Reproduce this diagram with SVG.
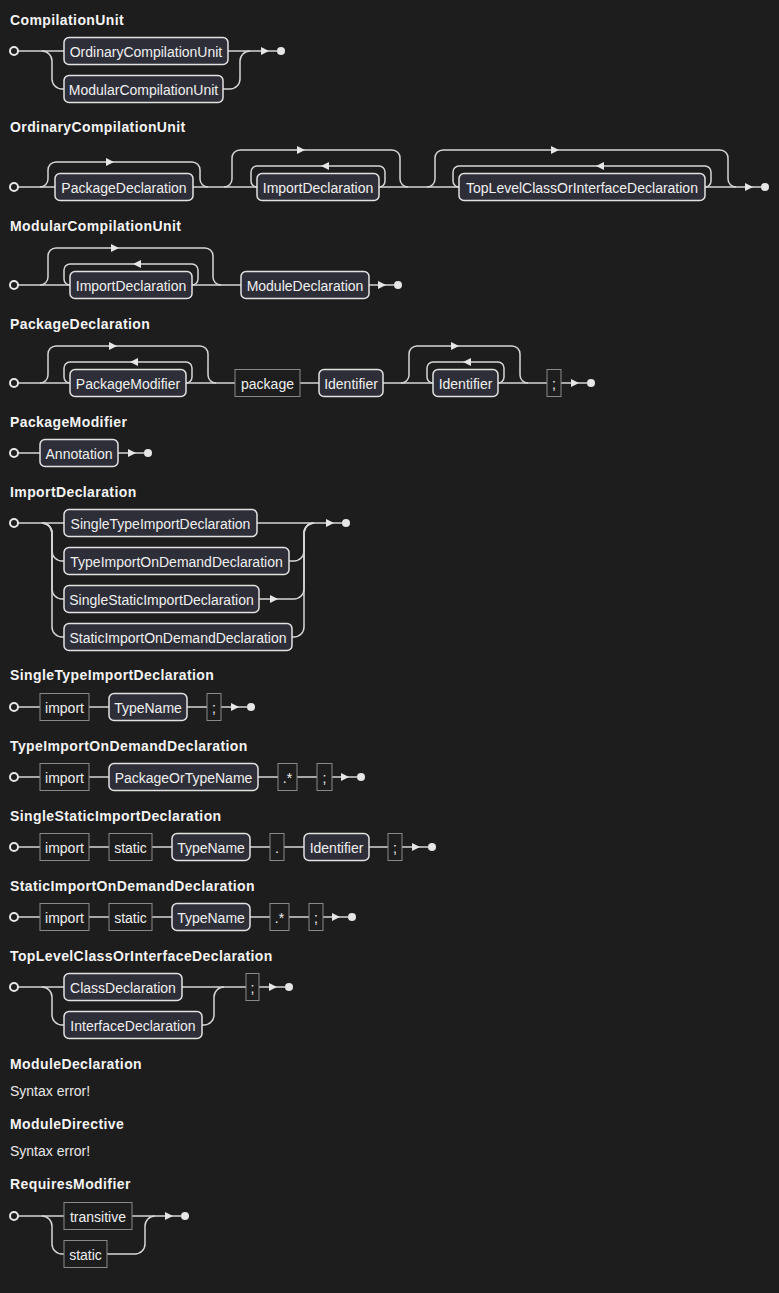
<svg xmlns="http://www.w3.org/2000/svg" xmlns:xlink="http://www.w3.org/1999/xlink" width="779" height="1293" viewBox="0 0 779 1293">
  <style>
    .title { font-family: "Liberation Sans", Arial, sans-serif; font-size: 14px; font-weight: bold; fill: #f4f4f4; letter-spacing: 0.4px; }
    .msg { font-family: "Liberation Sans", Arial, sans-serif; font-size: 14px; fill: #e8e8e8; }
    .lbl { font-family: "Liberation Sans", Arial, sans-serif; font-size: 14px; fill: #f0f0f0; text-anchor: middle; }
    .nt rect { fill: #2e2e38; stroke: #e2e2e2; stroke-width: 1.5; }
    .t rect { fill: none; stroke: #8a8a8a; stroke-width: 1; }
    .wire path { fill: none; stroke: #d6d6d6; stroke-width: 1.5; }
    .start { fill: #1d1d1d; stroke: #e6e6e6; stroke-width: 2; }
    .end { fill: #e6e6e6; }
    .arrow { fill: #e6e6e6; }
  </style>
  <defs>
    <path id="arR" d="M-4,-4 L4,0 L-4,4 Z"/>
    <path id="arL" d="M4,-4 L-4,0 L4,4 Z"/>
  </defs>
  <rect width="779" height="1293" fill="#1d1d1d"/>

  <!-- CompilationUnit -->
  <g id="compilation-unit">
    <text class="title" x="10" y="25">CompilationUnit</text>
    <g class="wire" id="cu-wires">
      <path d="M18,51 H64"/>
      <path d="M228,51 H277"/>
      <path d="M42,51 a10,10 0 0 1 10,10 V79 a10,10 0 0 0 10,10 H64"/>
      <path d="M223,89 H230 a10,10 0 0 0 10,-10 V61 a10,10 0 0 1 10,-10"/>
      <use href="#arR" x="265" y="51" class="arrow"/>
    </g>
    <circle class="start" cx="14" cy="51" r="4"/>
    <circle class="end" cx="281" cy="51" r="4"/>
    <g id="cu-ordinary" class="nt"><rect x="64" y="37.5" width="164" height="27" rx="5"/><text class="lbl" x="146" y="57">OrdinaryCompilationUnit</text></g>
    <g id="cu-modular" class="nt"><rect x="64" y="75.5" width="159" height="27" rx="5"/><text class="lbl" x="143.5" y="95">ModularCompilationUnit</text></g>
  </g>

  <!-- OrdinaryCompilationUnit -->
  <g id="ordinary-compilation-unit">
    <text class="title" x="10" y="132">OrdinaryCompilationUnit</text>
    <g class="wire" id="ocu-wires">
      <path d="M18,187 H55"/>
      <path d="M193,187 H257"/>
      <path d="M379,187 H459"/>
      <path d="M705,187 H761"/>
      <path d="M40,187 a8,8 0 0 0 8,-8 v-9 a8,8 0 0 1 8,-8 H192 a8,8 0 0 1 8,8 v9 a8,8 0 0 0 8,8"/>
      <path d="M224,187 a8,8 0 0 0 8,-8 v-21 a8,8 0 0 1 8,-8 H392 a8,8 0 0 1 8,8 v21 a8,8 0 0 0 8,8"/>
      <path d="M379,187 a6,6 0 0 0 6,-6 v-9 a6,6 0 0 0 -6,-6 H257 a6,6 0 0 0 -6,6 v9 a6,6 0 0 0 6,6"/>
      <path d="M427,187 a8,8 0 0 0 8,-8 v-21 a8,8 0 0 1 8,-8 H720 a8,8 0 0 1 8,8 v21 a8,8 0 0 0 8,8"/>
      <path d="M705,187 a6,6 0 0 0 6,-6 v-9 a6,6 0 0 0 -6,-6 H459 a6,6 0 0 0 -6,6 v9 a6,6 0 0 0 6,6"/>
      <use href="#arR" x="110" y="162" class="arrow"/>
      <use href="#arR" x="301" y="150" class="arrow"/>
      <use href="#arL" x="325" y="166" class="arrow"/>
      <use href="#arR" x="555" y="150" class="arrow"/>
      <use href="#arL" x="600" y="166" class="arrow"/>
      <use href="#arR" x="749" y="187" class="arrow"/>
    </g>
    <circle class="start" cx="14" cy="187" r="4"/>
    <circle class="end" cx="765" cy="187" r="4"/>
    <g id="ocu-package" class="nt"><rect x="55" y="173.5" width="138" height="27" rx="5"/><text class="lbl" x="124" y="193">PackageDeclaration</text></g>
    <g id="ocu-import" class="nt"><rect x="257" y="173.5" width="122" height="27" rx="5"/><text class="lbl" x="318" y="193">ImportDeclaration</text></g>
    <g id="ocu-toplevel" class="nt"><rect x="459" y="173.5" width="246" height="27" rx="5"/><text class="lbl" x="582" y="193">TopLevelClassOrInterfaceDeclaration</text></g>
  </g>

  <!-- ModularCompilationUnit -->
  <g id="modular-compilation-unit">
    <text class="title" x="10" y="231">ModularCompilationUnit</text>
    <g class="wire" id="mcu-wires">
      <path d="M18,285 H70"/>
      <path d="M192,285 H241"/>
      <path d="M369,285 H394"/>
      <path d="M40,285 a8,8 0 0 0 8,-8 v-21 a8,8 0 0 1 8,-8 H205 a8,8 0 0 1 8,8 v21 a8,8 0 0 0 8,8"/>
      <path d="M192,285 a6,6 0 0 0 6,-6 v-9 a6,6 0 0 0 -6,-6 H70 a6,6 0 0 0 -6,6 v9 a6,6 0 0 0 6,6"/>
      <use href="#arR" x="115" y="248" class="arrow"/>
      <use href="#arL" x="137" y="264" class="arrow"/>
      <use href="#arR" x="382" y="285" class="arrow"/>
    </g>
    <circle class="start" cx="14" cy="285" r="4"/>
    <circle class="end" cx="398" cy="285" r="4"/>
    <g id="mcu-import" class="nt"><rect x="70" y="271.5" width="122" height="27" rx="5"/><text class="lbl" x="131" y="291">ImportDeclaration</text></g>
    <g id="mcu-module" class="nt"><rect x="241" y="271.5" width="128" height="27" rx="5"/><text class="lbl" x="305" y="291">ModuleDeclaration</text></g>
  </g>

  <!-- PackageDeclaration -->
  <g id="package-declaration">
    <text class="title" x="10" y="329">PackageDeclaration</text>
    <g class="wire" id="pd-wires">
      <path d="M18,383 H70"/>
      <path d="M186,383 H235"/>
      <path d="M300,383 H319"/>
      <path d="M383,383 H433"/>
      <path d="M498,383 H547"/>
      <path d="M561,383 H587"/>
      <path d="M40,383 a8,8 0 0 0 8,-8 v-21 a8,8 0 0 1 8,-8 H200 a8,8 0 0 1 8,8 v21 a8,8 0 0 0 8,8"/>
      <path d="M186,383 a6,6 0 0 0 6,-6 v-9 a6,6 0 0 0 -6,-6 H70 a6,6 0 0 0 -6,6 v9 a6,6 0 0 0 6,6"/>
      <path d="M401,383 a8,8 0 0 0 8,-8 v-21 a8,8 0 0 1 8,-8 H512 a8,8 0 0 1 8,8 v21 a8,8 0 0 0 8,8"/>
      <path d="M498,383 a6,6 0 0 0 6,-6 v-9 a6,6 0 0 0 -6,-6 H433 a6,6 0 0 0 -6,6 v9 a6,6 0 0 0 6,6"/>
      <use href="#arR" x="113" y="346" class="arrow"/>
      <use href="#arL" x="134" y="362" class="arrow"/>
      <use href="#arR" x="455" y="346" class="arrow"/>
      <use href="#arL" x="467" y="362" class="arrow"/>
      <use href="#arR" x="575" y="383" class="arrow"/>
    </g>
    <circle class="start" cx="14" cy="383" r="4"/>
    <circle class="end" cx="591" cy="383" r="4"/>
    <g id="pd-modifier" class="nt"><rect x="70" y="369.5" width="116" height="27" rx="5"/><text class="lbl" x="128" y="389">PackageModifier</text></g>
    <g id="pd-package" class="t"><rect x="235" y="369.5" width="65" height="27"/><text class="lbl" x="267.5" y="389">package</text></g>
    <g id="pd-identifier" class="nt"><rect x="319" y="369.5" width="64" height="27" rx="5"/><text class="lbl" x="351" y="389">Identifier</text></g>
    <g id="pd-identifier-rep" class="nt"><rect x="433" y="369.5" width="65" height="27" rx="5"/><text class="lbl" x="465.5" y="389">Identifier</text></g>
    <g id="pd-semicolon" class="t"><rect x="547" y="369.5" width="14" height="27"/><text class="lbl" x="554" y="389">;</text></g>
  </g>

  <!-- PackageModifier -->
  <g id="package-modifier">
    <text class="title" x="10" y="427">PackageModifier</text>
    <g class="wire" id="pm-wires">
      <path d="M18,453 H40"/>
      <path d="M118,453 H144"/>
      <use href="#arR" x="132" y="453" class="arrow"/>
    </g>
    <circle class="start" cx="14" cy="453" r="4"/>
    <circle class="end" cx="148" cy="453" r="4"/>
    <g id="pm-annotation" class="nt"><rect x="40" y="439.5" width="78" height="27" rx="5"/><text class="lbl" x="79" y="459">Annotation</text></g>
  </g>

  <!-- ImportDeclaration -->
  <g id="import-declaration">
    <text class="title" x="10" y="497">ImportDeclaration</text>
    <g class="wire" id="id-wires">
      <path d="M18,523 H64"/>
      <path d="M257,523 H342"/>
      <path d="M42,523 a10,10 0 0 1 10,10 V551 a10,10 0 0 0 10,10 H64"/>
      <path d="M42,523 a10,10 0 0 1 10,10 V589 a10,10 0 0 0 10,10 H64"/>
      <path d="M42,523 a10,10 0 0 1 10,10 V627 a10,10 0 0 0 10,10 H64"/>
      <path d="M289,561 H294 a10,10 0 0 0 10,-10 V533 a10,10 0 0 1 10,-10"/>
      <path d="M259,599 H294 a10,10 0 0 0 10,-10 V533 a10,10 0 0 1 10,-10"/>
      <path d="M292,637 H294 a10,10 0 0 0 10,-10 V533 a10,10 0 0 1 10,-10"/>
      <use href="#arR" x="274" y="599" class="arrow"/>
      <use href="#arR" x="330" y="523" class="arrow"/>
    </g>
    <circle class="start" cx="14" cy="523" r="4"/>
    <circle class="end" cx="346" cy="523" r="4"/>
    <g id="id-single-type" class="nt"><rect x="64" y="509.5" width="193" height="27" rx="5"/><text class="lbl" x="160.5" y="529">SingleTypeImportDeclaration</text></g>
    <g id="id-type-on-demand" class="nt"><rect x="64" y="547.5" width="225" height="27" rx="5"/><text class="lbl" x="176.5" y="567">TypeImportOnDemandDeclaration</text></g>
    <g id="id-single-static" class="nt"><rect x="64" y="585.5" width="195" height="27" rx="5"/><text class="lbl" x="161.5" y="605">SingleStaticImportDeclaration</text></g>
    <g id="id-static-on-demand" class="nt"><rect x="64" y="623.5" width="228" height="27" rx="5"/><text class="lbl" x="178" y="643">StaticImportOnDemandDeclaration</text></g>
  </g>

  <!-- SingleTypeImportDeclaration -->
  <g id="single-type-import-declaration">
    <text class="title" x="10" y="680">SingleTypeImportDeclaration</text>
    <g class="wire" id="stid-wires">
      <path d="M18,707 H40"/>
      <path d="M89,707 H109"/>
      <path d="M187,707 H207"/>
      <path d="M221,707 H247"/>
      <use href="#arR" x="235" y="707" class="arrow"/>
    </g>
    <circle class="start" cx="14" cy="707" r="4"/>
    <circle class="end" cx="251" cy="707" r="4"/>
    <g id="stid-import" class="t"><rect x="40" y="693.5" width="49" height="27"/><text class="lbl" x="64.5" y="713">import</text></g>
    <g id="stid-typename" class="nt"><rect x="109" y="693.5" width="78" height="27" rx="5"/><text class="lbl" x="148" y="713">TypeName</text></g>
    <g id="stid-semicolon" class="t"><rect x="207" y="693.5" width="14" height="27"/><text class="lbl" x="214" y="713">;</text></g>
  </g>

  <!-- TypeImportOnDemandDeclaration -->
  <g id="type-import-on-demand-declaration">
    <text class="title" x="10" y="751">TypeImportOnDemandDeclaration</text>
    <g class="wire" id="tiod-wires">
      <path d="M18,777 H40"/>
      <path d="M89,777 H109"/>
      <path d="M258,777 H278"/>
      <path d="M297,777 H317"/>
      <path d="M332,777 H357"/>
      <use href="#arR" x="345" y="777" class="arrow"/>
    </g>
    <circle class="start" cx="14" cy="777" r="4"/>
    <circle class="end" cx="361" cy="777" r="4"/>
    <g id="tiod-import" class="t"><rect x="40" y="763.5" width="49" height="27"/><text class="lbl" x="64.5" y="783">import</text></g>
    <g id="tiod-name" class="nt"><rect x="109" y="763.5" width="149" height="27" rx="5"/><text class="lbl" x="183.5" y="783">PackageOrTypeName</text></g>
    <g id="tiod-wildcard" class="t"><rect x="278" y="763.5" width="19" height="27"/><text class="lbl" x="287.5" y="783">.*</text></g>
    <g id="tiod-semicolon" class="t"><rect x="317" y="763.5" width="15" height="27"/><text class="lbl" x="324.5" y="783">;</text></g>
  </g>

  <!-- SingleStaticImportDeclaration -->
  <g id="single-static-import-declaration">
    <text class="title" x="10" y="821">SingleStaticImportDeclaration</text>
    <g class="wire" id="ssid-wires">
      <path d="M18,847 H40"/>
      <path d="M89,847 H109"/>
      <path d="M152,847 H172"/>
      <path d="M250,847 H270"/>
      <path d="M284,847 H304"/>
      <path d="M369,847 H388"/>
      <path d="M402,847 H428"/>
      <use href="#arR" x="416" y="847" class="arrow"/>
    </g>
    <circle class="start" cx="14" cy="847" r="4"/>
    <circle class="end" cx="432" cy="847" r="4"/>
    <g id="ssid-import" class="t"><rect x="40" y="833.5" width="49" height="27"/><text class="lbl" x="64.5" y="853">import</text></g>
    <g id="ssid-static" class="t"><rect x="109" y="833.5" width="43" height="27"/><text class="lbl" x="130.5" y="853">static</text></g>
    <g id="ssid-typename" class="nt"><rect x="172" y="833.5" width="78" height="27" rx="5"/><text class="lbl" x="211" y="853">TypeName</text></g>
    <g id="ssid-dot" class="t"><rect x="270" y="833.5" width="14" height="27"/><text class="lbl" x="277" y="853">.</text></g>
    <g id="ssid-identifier" class="nt"><rect x="304" y="833.5" width="65" height="27" rx="5"/><text class="lbl" x="336.5" y="853">Identifier</text></g>
    <g id="ssid-semicolon" class="t"><rect x="388" y="833.5" width="14" height="27"/><text class="lbl" x="395" y="853">;</text></g>
  </g>

  <!-- StaticImportOnDemandDeclaration -->
  <g id="static-import-on-demand-declaration">
    <text class="title" x="10" y="891">StaticImportOnDemandDeclaration</text>
    <g class="wire" id="siod-wires">
      <path d="M18,917 H40"/>
      <path d="M89,917 H109"/>
      <path d="M152,917 H172"/>
      <path d="M250,917 H270"/>
      <path d="M289,917 H309"/>
      <path d="M323,917 H348"/>
      <use href="#arR" x="336" y="917" class="arrow"/>
    </g>
    <circle class="start" cx="14" cy="917" r="4"/>
    <circle class="end" cx="352" cy="917" r="4"/>
    <g id="siod-import" class="t"><rect x="40" y="903.5" width="49" height="27"/><text class="lbl" x="64.5" y="923">import</text></g>
    <g id="siod-static" class="t"><rect x="109" y="903.5" width="43" height="27"/><text class="lbl" x="130.5" y="923">static</text></g>
    <g id="siod-typename" class="nt"><rect x="172" y="903.5" width="78" height="27" rx="5"/><text class="lbl" x="211" y="923">TypeName</text></g>
    <g id="siod-wildcard" class="t"><rect x="270" y="903.5" width="19" height="27"/><text class="lbl" x="279.5" y="923">.*</text></g>
    <g id="siod-semicolon" class="t"><rect x="309" y="903.5" width="14" height="27"/><text class="lbl" x="316" y="923">;</text></g>
  </g>

  <!-- TopLevelClassOrInterfaceDeclaration -->
  <g id="top-level-class-or-interface-declaration">
    <text class="title" x="10" y="961">TopLevelClassOrInterfaceDeclaration</text>
    <g class="wire" id="tl-wires">
      <path d="M18,987 H64"/>
      <path d="M182,987 H246"/>
      <path d="M259,987 H285"/>
      <path d="M42,987 a10,10 0 0 1 10,10 V1015 a10,10 0 0 0 10,10 H64"/>
      <path d="M202,1025 H204 a10,10 0 0 0 10,-10 V997 a10,10 0 0 1 10,-10"/>
      <use href="#arR" x="273" y="987" class="arrow"/>
    </g>
    <circle class="start" cx="14" cy="987" r="4"/>
    <circle class="end" cx="289" cy="987" r="4"/>
    <g id="tl-class" class="nt"><rect x="64" y="973.5" width="118" height="27" rx="5"/><text class="lbl" x="123" y="993">ClassDeclaration</text></g>
    <g id="tl-interface" class="nt"><rect x="64" y="1011.5" width="138" height="27" rx="5"/><text class="lbl" x="133" y="1031">InterfaceDeclaration</text></g>
    <g id="tl-semicolon" class="t"><rect x="246" y="973.5" width="13" height="27"/><text class="lbl" x="252.5" y="993">;</text></g>
  </g>

  <!-- ModuleDeclaration -->
  <g id="module-declaration">
    <text class="title" x="10" y="1069">ModuleDeclaration</text>
    <text class="msg" x="10" y="1096">Syntax error!</text>
  </g>

  <!-- ModuleDirective -->
  <g id="module-directive">
    <text class="title" x="10" y="1129">ModuleDirective</text>
    <text class="msg" x="10" y="1156">Syntax error!</text>
  </g>

  <!-- RequiresModifier -->
  <g id="requires-modifier">
    <text class="title" x="10" y="1189">RequiresModifier</text>
    <g class="wire" id="rm-wires">
      <path d="M18,1216 H64"/>
      <path d="M132,1216 H181"/>
      <path d="M42,1216 a10,10 0 0 1 10,10 V1244 a10,10 0 0 0 10,10 H64"/>
      <path d="M107,1254 H135 a10,10 0 0 0 10,-10 V1226 a10,10 0 0 1 10,-10"/>
      <use href="#arR" x="169" y="1216" class="arrow"/>
    </g>
    <circle class="start" cx="14" cy="1216" r="4"/>
    <circle class="end" cx="185" cy="1216" r="4"/>
    <g id="rm-transitive" class="t"><rect x="64" y="1202.5" width="68" height="27"/><text class="lbl" x="98" y="1222">transitive</text></g>
    <g id="rm-static" class="t"><rect x="64" y="1240.5" width="43" height="27"/><text class="lbl" x="85.5" y="1260">static</text></g>
  </g>
</svg>
